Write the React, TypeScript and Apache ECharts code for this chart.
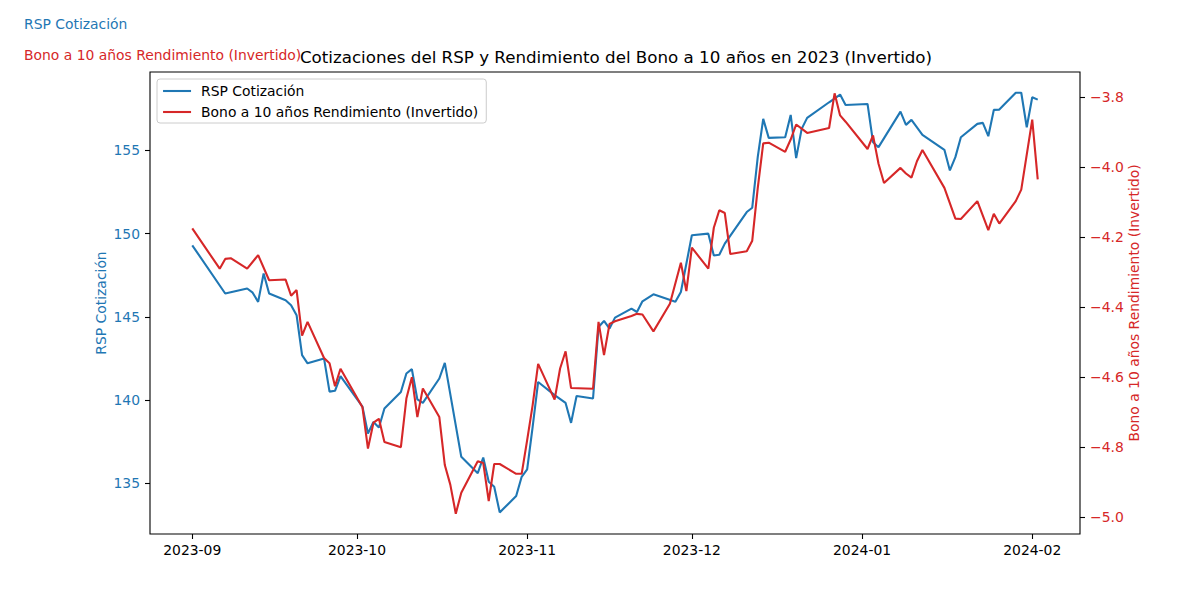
import React, { useEffect, useRef } from "react";
import * as echarts from "echarts";

const FONT = "'DejaVu Sans', sans-serif";
const BLUE = "#1f77b4";
const RED = "#d62728";

const chartTitle = "Cotizaciones del RSP y Rendimiento del Bono a 10 años en 2023 (Invertido)";
const rspName = "RSP Cotización";
const bondName = "Bono a 10 años Rendimiento (Invertido)";

const rspDates = [
  "2023-09-01", "2023-09-07", "2023-09-11", "2023-09-12", "2023-09-13", "2023-09-14", "2023-09-15",
  "2023-09-18", "2023-09-19", "2023-09-20", "2023-09-21", "2023-09-22", "2023-09-25", "2023-09-26",
  "2023-09-27", "2023-09-28", "2023-10-02", "2023-10-03", "2023-10-04", "2023-10-05", "2023-10-06",
  "2023-10-09", "2023-10-10", "2023-10-11", "2023-10-12", "2023-10-13", "2023-10-16", "2023-10-17",
  "2023-10-20", "2023-10-23", "2023-10-24", "2023-10-25", "2023-10-26", "2023-10-27", "2023-10-30",
  "2023-10-31", "2023-11-01", "2023-11-02", "2023-11-03", "2023-11-06", "2023-11-08", "2023-11-09",
  "2023-11-10", "2023-11-13", "2023-11-14", "2023-11-15", "2023-11-16", "2023-11-17", "2023-11-20",
  "2023-11-21", "2023-11-22", "2023-11-24", "2023-11-28", "2023-11-29", "2023-12-01", "2023-12-04",
  "2023-12-05", "2023-12-06", "2023-12-07", "2023-12-11", "2023-12-12", "2023-12-13", "2023-12-14",
  "2023-12-15", "2023-12-18", "2023-12-19", "2023-12-20", "2023-12-21", "2023-12-22", "2023-12-26",
  "2023-12-28", "2023-12-29", "2024-01-02", "2024-01-03", "2024-01-04", "2024-01-08", "2024-01-09",
  "2024-01-10", "2024-01-12", "2024-01-16", "2024-01-17", "2024-01-18", "2024-01-19", "2024-01-22",
  "2024-01-23", "2024-01-24", "2024-01-25", "2024-01-26", "2024-01-29", "2024-01-30", "2024-01-31",
  "2024-02-01", "2024-02-02",
];
const rspValues = [
  149.3, 146.4, 146.7, 146.45, 145.9, 147.6, 146.4,
  146.0, 145.7, 145.1, 142.7, 142.2, 142.5, 140.5,
  140.55, 141.43, 139.6, 137.98, 138.68, 138.34, 139.49,
  140.48, 141.59, 141.85, 140.03, 139.82, 141.29, 142.23,
  136.58, 135.6, 136.54, 135.08, 134.78, 133.24, 134.22,
  135.38, 135.82, 138.38, 141.08, 140.29, 139.82, 138.62,
  140.24, 140.09, 144.39, 144.75, 144.29, 144.95, 145.49,
  145.29, 145.93, 146.35, 145.9, 146.49, 149.9, 150.0,
  148.69, 148.73, 149.4, 151.3, 151.56, 154.6, 156.9,
  155.76, 155.8, 157.14, 154.54, 156.3, 156.96, 157.9,
  158.36, 157.74, 157.8, 155.5, 155.2, 157.34, 156.54,
  156.84, 155.94, 155.04, 153.8, 154.6, 155.8, 156.6,
  156.66, 155.86, 157.44, 157.46, 158.47, 158.47, 156.4,
  158.2, 158.06,
];

const bondDates = [
  "2023-09-01", "2023-09-06", "2023-09-07", "2023-09-08", "2023-09-11", "2023-09-13", "2023-09-15",
  "2023-09-18", "2023-09-19", "2023-09-20", "2023-09-21", "2023-09-22", "2023-09-25", "2023-09-26",
  "2023-09-27", "2023-09-28", "2023-10-02", "2023-10-03", "2023-10-04", "2023-10-05", "2023-10-06",
  "2023-10-09", "2023-10-10", "2023-10-11", "2023-10-12", "2023-10-13", "2023-10-16", "2023-10-17",
  "2023-10-18", "2023-10-19", "2023-10-20", "2023-10-23", "2023-10-24", "2023-10-25", "2023-10-26",
  "2023-10-27", "2023-10-30", "2023-10-31", "2023-11-01", "2023-11-02", "2023-11-03", "2023-11-06",
  "2023-11-07", "2023-11-08", "2023-11-09", "2023-11-13", "2023-11-14", "2023-11-15", "2023-11-16",
  "2023-11-17", "2023-11-20", "2023-11-21", "2023-11-22", "2023-11-24", "2023-11-27", "2023-11-29",
  "2023-11-30", "2023-12-01", "2023-12-04", "2023-12-05", "2023-12-06", "2023-12-07", "2023-12-08",
  "2023-12-11", "2023-12-12", "2023-12-13", "2023-12-14", "2023-12-15", "2023-12-18", "2023-12-19",
  "2023-12-20", "2023-12-21", "2023-12-22", "2023-12-26", "2023-12-27", "2023-12-28", "2023-12-29",
  "2024-01-02", "2024-01-03", "2024-01-04", "2024-01-05", "2024-01-08", "2024-01-09", "2024-01-10",
  "2024-01-11", "2024-01-12", "2024-01-16", "2024-01-18", "2024-01-19", "2024-01-22", "2024-01-24",
  "2024-01-25", "2024-01-26", "2024-01-29", "2024-01-30", "2024-02-01", "2024-02-02",
];
const bondValues = [
  -4.175, -4.29, -4.262, -4.26, -4.29, -4.251, -4.323,
  -4.321, -4.367, -4.351, -4.481, -4.442, -4.545, -4.56,
  -4.626, -4.576, -4.686, -4.804, -4.73, -4.719, -4.785,
  -4.8, -4.661, -4.6, -4.714, -4.632, -4.714, -4.851,
  -4.907, -4.99, -4.93, -4.84, -4.845, -4.954, -4.848,
  -4.848, -4.876, -4.876, -4.78, -4.68, -4.562, -4.664,
  -4.575, -4.526, -4.631, -4.633, -4.442, -4.537, -4.448,
  -4.44, -4.425, -4.419, -4.421, -4.469, -4.39, -4.273,
  -4.354, -4.23, -4.29, -4.173, -4.123, -4.131, -4.248,
  -4.24, -4.21, -4.06, -3.932, -3.93, -3.956, -3.921,
  -3.878, -3.89, -3.902, -3.888, -3.789, -3.852, -3.87,
  -3.948, -3.909, -3.99, -4.045, -4.002, -4.018, -4.03,
  -3.983, -3.951, -4.059, -4.147, -4.148, -4.097, -4.18,
  -4.133, -4.161, -4.097, -4.064, -3.864, -4.035,
];

const monthTicks = ["2023-09-01", "2023-10-01", "2023-11-01", "2023-12-01", "2024-01-01", "2024-02-01"];
const rspTicks = [135, 140, 145, 150, 155];
const bondTicks = [-5.0, -4.8, -4.6, -4.4, -4.2, -4.0, -3.8];

const DAY = 86400000;

function toTs(s: string): number {
  const [y, m, d] = s.split("-").map(Number);
  return new Date(y, m - 1, d).getTime();
}

function fmtMinus(v: number, digits: number): string {
  const s = Math.abs(v).toFixed(digits);
  return v < 0 ? "\u2212" + s : s;
}

function fmtMonth(v: number): string {
  const d = new Date(v);
  return d.getFullYear() + "-" + String(d.getMonth() + 1).padStart(2, "0");
}

export default function App() {
  const ref = useRef<HTMLDivElement>(null);

  useEffect(() => {
    if (!ref.current) return;
    const chart = echarts.init(ref.current, undefined, { renderer: "svg" });
    const start = toTs("2023-09-01");
    const monthVals = monthTicks.map(toTs);

    const tickLine = { color: "#000", width: 1.1 };

    chart.setOption({
      animation: false,
      backgroundColor: "#ffffff",
      textStyle: { fontFamily: FONT },
      title: {
        text: chartTitle,
        left: 616,
        top: 48,
        textAlign: "center",
        padding: 0,
        textStyle: { fontFamily: FONT, fontSize: 16.7, fontWeight: "normal", color: "#000" },
      },
      legend: {
        left: 157,
        top: 79,
        orient: "vertical",
        padding: [5, 8, 4, 5],
        itemGap: 7,
        itemWidth: 28,
        itemHeight: 14,
        backgroundColor: "rgba(255,255,255,0.8)",
        borderColor: "#cccccc",
        borderWidth: 1,
        borderRadius: 3,
        itemStyle: { opacity: 0 },
        lineStyle: { width: 2.1 },
        textStyle: { fontFamily: FONT, fontSize: 13.9, color: "#000", padding: [0, 0, 0, 5] },
        data: [rspName, bondName],
      },
      grid: {
        left: 150,
        right: 120,
        top: 72,
        bottom: 66,
        show: true,
        borderColor: "#000",
        borderWidth: 1.1,
        backgroundColor: "transparent",
      },
      xAxis: {
        type: "value",
        min: start - 7.7 * DAY,
        max: start + 161.7 * DAY,
        axisLine: { show: false },
        splitLine: { show: false },
        axisTick: { show: true, length: 5, lineStyle: tickLine, customValues: monthVals },
        axisLabel: {
          customValues: monthVals,
          color: "#000",
          fontSize: 13.9,
          fontFamily: FONT,
          margin: 9,
          formatter: (v: number) => fmtMonth(v),
        },
      },
      yAxis: [
        {
          type: "value",
          position: "left",
          min: 131.94,
          max: 159.72,
          axisLine: { show: false },
          splitLine: { show: false },
          axisTick: { show: true, length: 5, lineStyle: tickLine, customValues: rspTicks },
          axisLabel: { customValues: rspTicks, color: BLUE, fontSize: 13.9, fontFamily: FONT, margin: 10 },
          name: rspName,
          nameLocation: "middle",
          nameGap: 42,
          nameMoveOverlap: false,
          nameTextStyle: { color: BLUE, fontSize: 13.9, fontFamily: FONT },
        },
        {
          type: "value",
          position: "right",
          min: -5.048,
          max: -3.728,
          axisLine: { show: false },
          splitLine: { show: false },
          axisTick: { show: true, length: 5, lineStyle: tickLine, customValues: bondTicks },
          axisLabel: {
            customValues: bondTicks,
            color: RED,
            fontSize: 13.9,
            fontFamily: FONT,
            margin: 10,
            formatter: (v: number) => fmtMinus(v, 1),
          },
          name: bondName,
          nameLocation: "middle",
          nameRotate: 90,
          nameGap: 47,
          nameMoveOverlap: false,
          nameTextStyle: { color: RED, fontSize: 13.9, fontFamily: FONT },
        },
      ],
      series: [
        {
          name: rspName,
          type: "line",
          yAxisIndex: 0,
          symbol: "none",
          color: BLUE,
          lineStyle: { color: BLUE, width: 2.1 },
          data: rspDates.map((d, i) => [toTs(d), rspValues[i]]),
        },
        {
          name: bondName,
          type: "line",
          yAxisIndex: 1,
          symbol: "none",
          color: RED,
          lineStyle: { color: RED, width: 2.1 },
          data: bondDates.map((d, i) => [toTs(d), bondValues[i]]),
        },
      ],
      graphic: [
        {
          type: "text",
          left: 24,
          top: 17,
          style: { text: rspName, fill: BLUE, font: `13.9px ${FONT}` },
        },
        {
          type: "text",
          left: 24,
          top: 48,
          style: { text: bondName, fill: RED, font: `13.9px ${FONT}` },
        },
      ],
    });

    return () => chart.dispose();
  }, []);

  return (
    <div
      ref={ref}
      style={{ position: "fixed", left: 0, top: 0, width: 1200, height: 600, background: "#fff" }}
    />
  );
}
